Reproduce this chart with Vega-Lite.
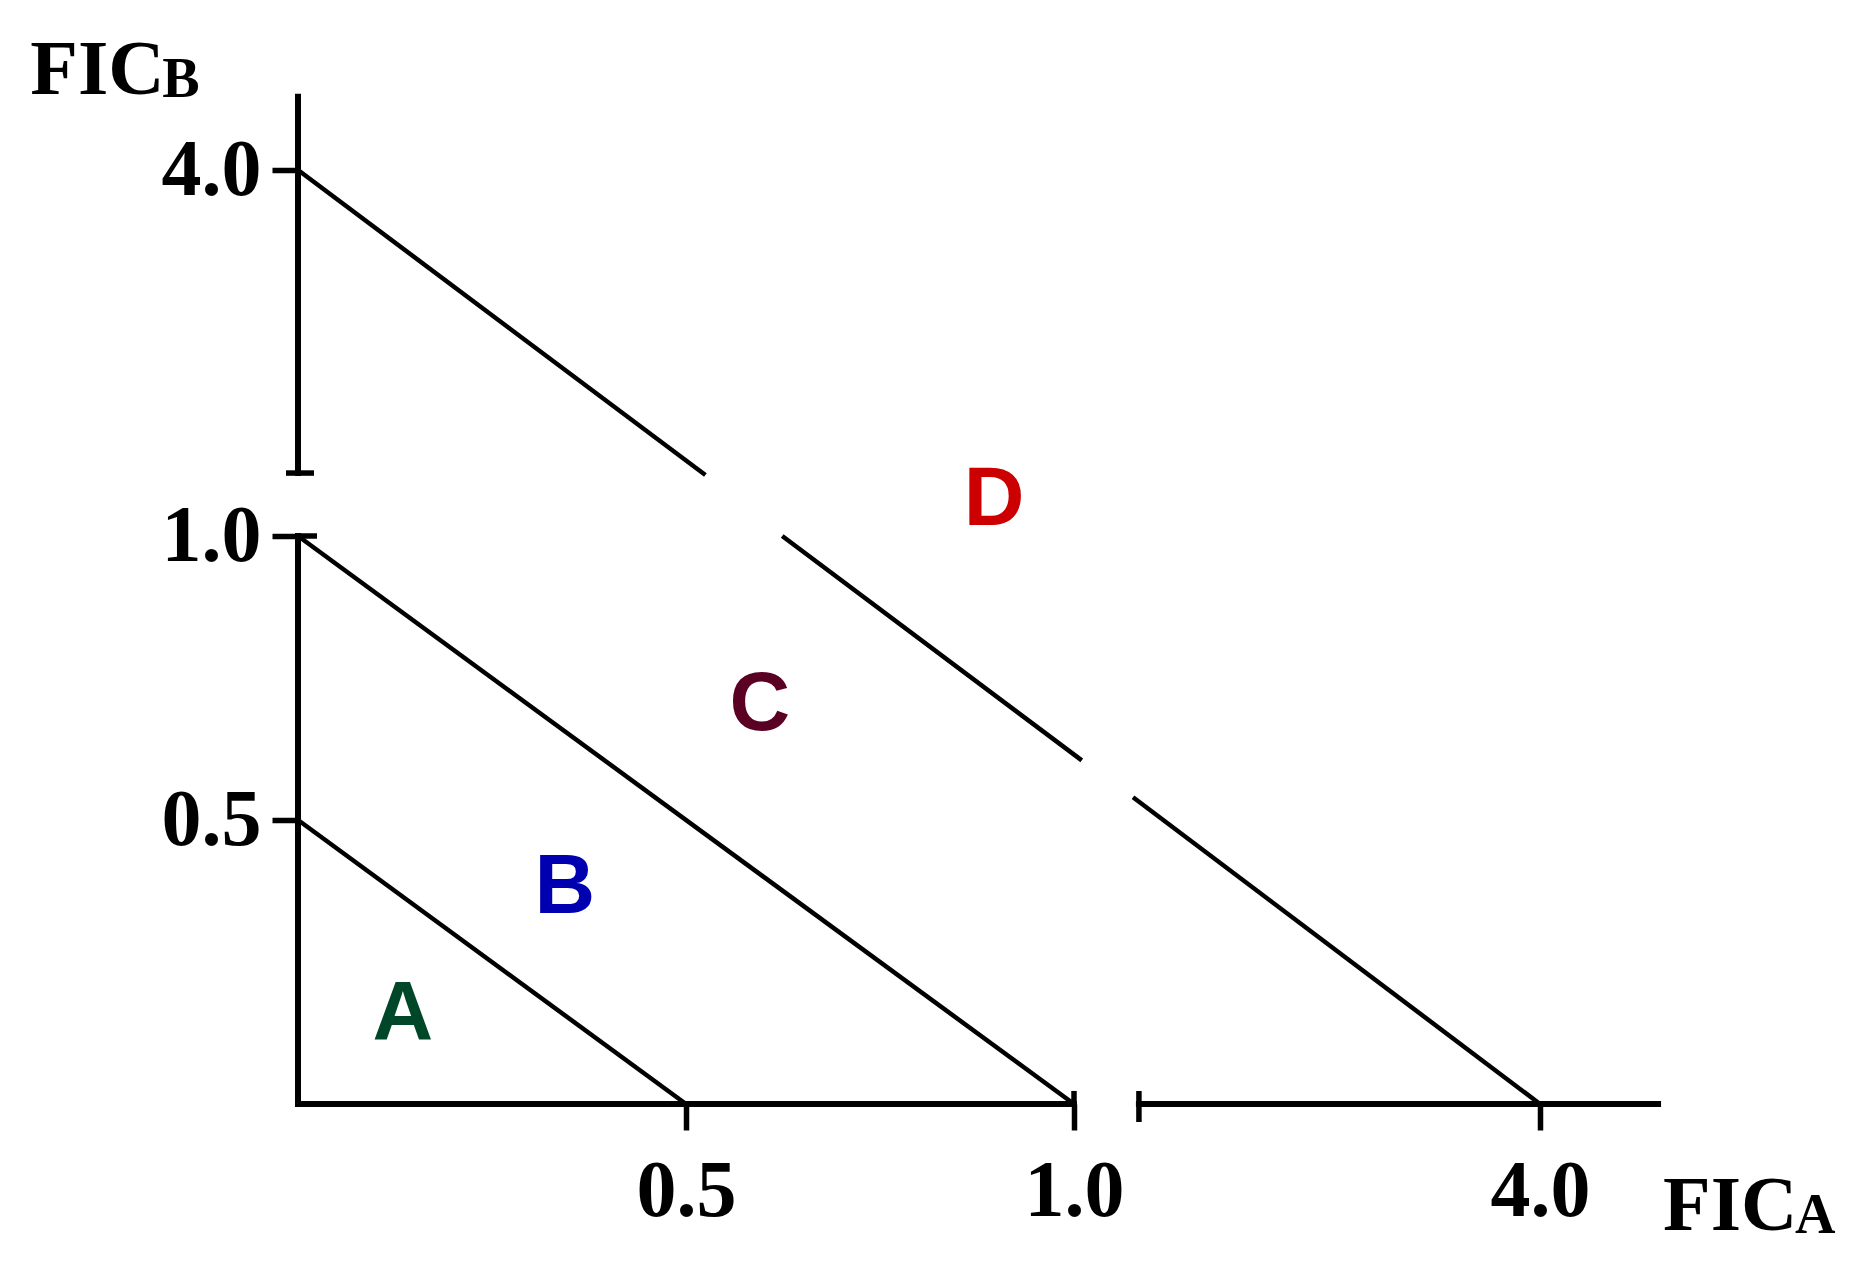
{
  "$schema": "https://vega.github.io/schema/vega-lite/v6.json",
  "width": 1360,
  "height": 1008,
  "autosize": {"type": "none"},
  "padding": {"left": 298, "top": 96, "right": 214, "bottom": 166},
  "background": "white",
  "config": {"view": {"stroke": null}},
  "encoding": {
    "x": {
      "field": "x",
      "type": "quantitative",
      "scale": {"domain": [0, 1, 4], "range": [0, 776, 1242], "nice": false, "zero": false},
      "axis": {
        "values": [0.5, 1, 4], "format": ".1f", "domain": false, "grid": false, "title": null,
        "ticks": true, "tickSize": 26, "tickWidth": 5.5, "tickColor": "black",
        "labelFont": "Liberation Serif", "labelFontWeight": "bold", "labelFontSize": 80,
        "labelColor": "black", "labelPadding": 22, "labelFlush": false, "labelOverlap": false
      }
    },
    "y": {
      "field": "y",
      "type": "quantitative",
      "scale": {"domain": [0, 1, 4], "range": [1008, 440, 74], "nice": false, "zero": false},
      "axis": {
        "values": [0.5, 1, 4], "format": ".1f", "domain": false, "grid": false, "title": null,
        "ticks": true, "tickSize": 26, "tickWidth": 5.5, "tickColor": "black",
        "labelFont": "Liberation Serif", "labelFontWeight": "bold", "labelFontSize": 80,
        "labelColor": "black", "labelPadding": 11, "labelFlush": false, "labelOverlap": false
      }
    }
  },
  "layer": [
    {
      "data": {"values": [
        {"x": 0, "y": 4.6, "x2": 0, "y2": 1.516},
        {"x": 0, "y": 1, "x2": 0, "y2": 0},
        {"x": 0, "y": 0, "x2": 1, "y2": 0},
        {"x": 1.418, "y": 0, "x2": 4.76, "y2": 0}
      ]},
      "mark": {"type": "rule", "color": "black", "strokeWidth": 6, "strokeCap": "square"},
      "encoding": {"x2": {"field": "x2"}, "y2": {"field": "y2"}}
    },
    {
      "data": {"values": [
        {"x": -0.0155, "y": 1.516, "x2": 0.0206, "y2": 1.516},
        {"x": 0, "y": 1, "x2": 0.0245, "y2": 1},
        {"x": 1, "y": 0, "x2": 1, "y2": 0.023},
        {"x": 1.418, "y": 0.0229, "x2": 1.418, "y2": -0.0317}
      ]},
      "mark": {"type": "rule", "color": "black", "strokeWidth": 5.5},
      "encoding": {"x2": {"field": "x2"}, "y2": {"field": "y2"}}
    },
    {
      "data": {"values": [
        {"x": 0, "y": 0.5, "x2": 0.5, "y2": 0},
        {"x": 0, "y": 1, "x2": 1, "y2": 0},
        {"x": 0, "y": 4, "x2": 0.525, "y2": 1.5},
        {"x": 0.624, "y": 1.0, "x2": 1.05, "y2": 0.605},
        {"x": 1.38, "y": 0.54, "x2": 4, "y2": 0}
      ]},
      "mark": {"type": "rule", "color": "black", "strokeWidth": 4.5},
      "encoding": {"x2": {"field": "x2"}, "y2": {"field": "y2"}}
    },
    {
      "data": {"values": [
        {"x": 0.135, "y": 0.113, "region": "A"},
        {"x": 0.344, "y": 0.336, "region": "B"},
        {"x": 0.595, "y": 0.658, "region": "C"},
        {"x": 0.897, "y": 1.09, "region": "D"}
      ]},
      "mark": {"type": "text", "font": "Liberation Sans", "fontWeight": "bold", "fontSize": 84, "align": "center", "baseline": "alphabetic"},
      "encoding": {
        "text": {"field": "region"},
        "color": {"field": "region", "type": "nominal", "legend": null,
          "scale": {"domain": ["A", "B", "C", "D"], "range": ["#00472a", "#0000b0", "#5a0022", "#cc0000"]}}
      }
    },
    {
      "data": {"values": [
        {"x": -0.345, "y": 4.623, "t": "FIC"},
        {"x": 4.792, "y": -0.222, "t": "FIC"}
      ]},
      "mark": {"type": "text", "font": "Liberation Serif", "fontWeight": "bold", "fontSize": 78, "align": "left", "baseline": "alphabetic", "color": "black"},
      "encoding": {"text": {"field": "t"}}
    },
    {
      "data": {"values": [
        {"x": -0.175, "y": 4.598, "t": "B"},
        {"x": 5.642, "y": -0.227, "t": "A"}
      ]},
      "mark": {"type": "text", "font": "Liberation Serif", "fontWeight": "bold", "fontSize": 56, "align": "left", "baseline": "alphabetic", "color": "black"},
      "encoding": {"text": {"field": "t"}}
    }
  ]
}
